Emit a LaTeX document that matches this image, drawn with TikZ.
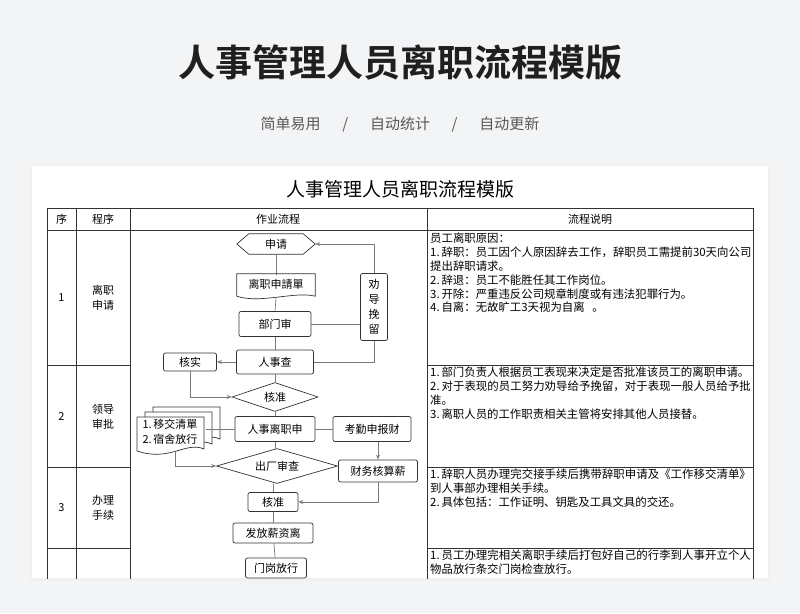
\documentclass[tikz,border=0pt]{standalone}
\usepackage{fontspec}
\setmainfont{Noto Sans CJK SC}
\newfontfamily\cjkb{Noto Sans CJK SC Bold}
\XeTeXlinebreaklocale "zh"
\XeTeXlinebreakskip=0pt plus 1pt
\usetikzlibrary{shapes.geometric,arrows.meta,calc}
\definecolor{bgc}{HTML}{F3F4F6}
\definecolor{lnc}{HTML}{7A7A7A}
\definecolor{bdc}{HTML}{333333}
\begin{document}
\begin{tikzpicture}[x=1pt,y=-1pt,
 box/.style={draw=bdc,rounded corners=2pt,fill=white,font=\fontsize{11}{12}\selectfont,inner sep=0pt,line width=0.7pt},
 plain/.style={inner sep=0pt,font=\fontsize{11}{12}\selectfont},
 dia/.style={diamond,aspect=3,draw=bdc,fill=white,inner sep=0pt,line width=0.7pt,font=\fontsize{11}{12}\selectfont},
 con/.style={draw=lnc,line width=0.7pt},
 arr/.style={con,-{Stealth[length=5pt,width=4pt,open]}},
 tl/.style={draw=bdc,line width=0.8pt},
 desc/.style={anchor=north west,inner sep=0pt,font=\fontsize{11.4}{13.8}\selectfont,text width=322pt,align=left},
 cell/.style={inner sep=0pt,font=\fontsize{11}{15}\selectfont,align=center}]
\useasboundingbox (0,0) rectangle (800,613);
\fill[bgc] (0,0) rectangle (800,613);
\fill[black!6] (30,165) rectangle (770,581);
\fill[white] (32,166) rectangle (768,578);
\node[font=\cjkb\fontsize{37}{40}\selectfont,text=black!88] (title) at (400,62) {人事管理人员离职流程模版};
\node[font=\fontsize{15}{18}\selectfont,text=black!65] (sub) at (400,125) {简单易用\quad\ \ /\quad\ \ 自动统计\quad\ \ /\quad\ \ 自动更新};
\begin{scope}
\clip (32,166) rectangle (768,578);
\node[font=\fontsize{19}{22}\selectfont] (ttl) at (400,189) {人事管理人员离职流程模版};
% table
\draw[tl] (47,208) rectangle (753,600);
\draw[tl] (47,230) -- (753,230);
\foreach \x in {76,130,427} \draw[tl] (\x,208) -- (\x,600);
\foreach \y in {365,467,548} {\draw[tl] (47,\y) -- (130,\y); \draw[tl] (427,\y) -- (753,\y);}
\node[cell] (h1) at (61.5,219) {序};
\node[cell] (h2) at (103,219) {程序};
\node[cell] (h3) at (278,219) {作业流程};
\node[cell] (h4) at (590,219) {流程说明};
\node[cell] (n1) at (61.5,298) {1};
\node[cell] (n2) at (61.5,417) {2};
\node[cell] (n3) at (61.5,508) {3};
\node[cell] (p1) at (103,298) {离职\\申请};
\node[cell] (p2) at (103,417) {领导\\审批};
\node[cell] (p3) at (103,508) {办理\\手续};
\node[desc] (d1) at (430,233) {员工离职原因：\\1.\,辞职：员工因个人原因辞去工作，辞职员工需提前30天向公司提出辞职请求。\\2.\,辞退：员工不能胜任其工作岗位。\\3.\,开除：严重违反公司规章制度或有违法犯罪行为。\\4.\,自离：无故旷工3天视为自离\ \ 。};
\node[desc] (d2) at (430,367) {1.\,部门负责人根据员工表现来决定是否批准该员工的离职申请。\\2.\,对于表现的员工努力劝导给予挽留，对于表现一般人员给予批准。\\3.\,离职人员的工作职责相关主管将安排其他人员接替。};
\node[desc] (d3) at (430,469) {1.\,辞职人员办理完交接手续后携带辞职申请及《工作移交清单》到人事部办理相关手续。\\2.\,具体包括：工作证明、钥匙及工具文具的交还。};
\node[desc] (d4) at (430,550) {1.\,员工办理完相关离职手续后打包好自己的行李到人事开立个人物品放行条交门岗检查放行。};
% flowchart
\node[plain,minimum width=78pt,minimum height=20pt] (sq) at (276,244) {申请};
\draw[draw=bdc,fill=white,line width=0.7pt] (sq.west) -- ([xshift=12]sq.north west) -- ([xshift=-12]sq.north east) -- (sq.east) -- ([xshift=-12]sq.south east) -- ([xshift=12]sq.south west) -- cycle;
\node[plain] at (sq) {申请};
\node[plain,minimum width=78pt,minimum height=22pt] (form) at (276,285) {};
% stacked docs
\foreach \dx/\dy in {16/-10,8/-5,0/0} {
 \draw[draw=bdc,fill=white,line width=0.7pt] (137+\dx,417+\dy) -- (204+\dx,417+\dy) -- (204+\dx,449+\dy) .. controls (186+\dx,441+\dy) and (170+\dx,462+\dy) .. (137+\dx,451+\dy) -- cycle;}
\node[plain,align=left,font=\fontsize{11}{15}\selectfont] (docs) at (170,432) {1.\,移交清單\\2.\,宿舍放行};
\draw[con] (276,254) -- (276,275);
\draw[draw=bdc,line width=0.7pt] (form.north west) -- (form.north east) -- (form.south east) .. controls (295,291) and (260,304) .. (form.south west) -- cycle;
\node[plain] at (276,284) {离职申請單};
\node[box,minimum width=72pt,minimum height=25pt] (bm) at (275,324) {部门审};
\node[box,minimum width=77pt,minimum height=24pt] (rs) at (275,362) {人事查};
\node[box,minimum width=53pt,minimum height=18pt] (hs) at (190,362) {核实};
\node[box,minimum width=27pt,minimum height=67pt,align=center,font=\fontsize{11}{15}\selectfont] (qd) at (374,307) {劝\\导\\挽\\留};
\node[dia,minimum width=86pt,minimum height=29pt] (hz) at (275,397) {核准};
\node[box,minimum width=80pt,minimum height=25pt] (rl) at (275,429) {人事离职申};
\node[box,minimum width=78pt,minimum height=25pt] (kq) at (372,429) {考勤申报财};
\node[dia,minimum width=121pt,minimum height=35pt] (cc) at (277,466) {出厂审查};
\node[box,minimum width=79pt,minimum height=22pt] (cw) at (378,471) {财务核算薪};
\node[box,minimum width=50pt,minimum height=19pt] (hz2) at (273,502) {核准};
\node[box,minimum width=80pt,minimum height=20pt] (ff) at (273,533) {发放薪资离};
\node[box,minimum width=61pt,minimum height=20pt] (mg) at (276,568) {门岗放行};
\draw[con] (276,298) -- (bm.north);
\draw[con] (bm) -- (rs);
\draw[con] (rs) -- (hz);
\draw[con] (hz) -- (rl);
\draw[con] (rl.south) -- (275,449);
\draw[con] (hz2) -- (ff);
\draw[con] (ff) -- (mg);
\draw[con] (273,483.5) -- (hz2.north);
\draw[con] (bm.east) -- (qd.west |- bm.east);
\draw[con] (rs.east) -- (rs.east -| qd.south) -- (qd.south);
\draw[arr] (qd.north) -- (qd.north |- sq.east) -- (sq.east);
\draw[arr] (rs.west) -- (hs.east);
\draw[arr] (hs.south) -- (hs.south |- hz.west) -- (hz.west);
\draw[con] (rl.east) -- (kq.west);
\draw[con] (rl.west) -- (206,429);
\draw[arr] (175,452) -- (175,466) -- (cc.west);
\draw[arr] (kq.south -| cw.north) -- (cw.north);
\draw[arr] (cw.south) -- (cw.south |- hz2.east) -- (hz2.east);
\end{scope}
\end{tikzpicture}
\end{document}
